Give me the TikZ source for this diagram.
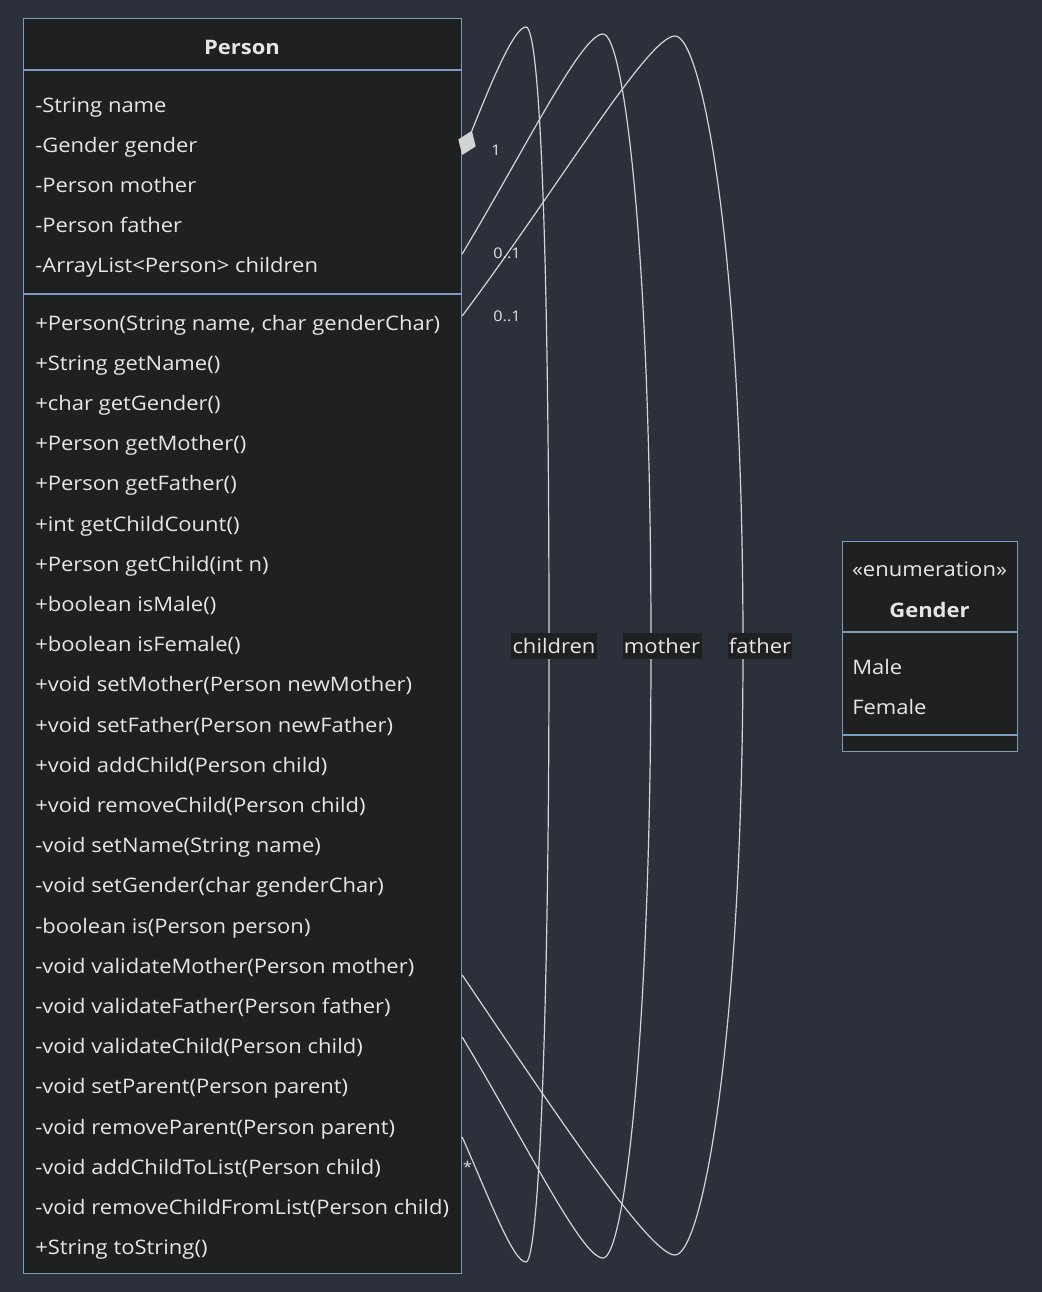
\documentclass[tikz,border=0pt]{standalone}
\usepackage{fontspec}
\setmainfont{Open Sans}[FakeStretch=1.1]
\usetikzlibrary{arrows.meta}
\definecolor{pagebg}{RGB}{43,48,59}
\definecolor{boxbg}{RGB}{31,32,32}
\definecolor{boxline}{RGB}{122,156,192}
\definecolor{ink}{RGB}{230,230,230}
\definecolor{wire}{RGB}{212,212,212}

\begin{document}
\begin{tikzpicture}[x=0.75pt, y=-0.75pt,
  classbox/.style={draw=boxline, fill=boxbg, line width=0.9pt, anchor=north west, inner sep=0pt},
  member/.style={anchor=base west, text=ink, font=\fontsize{15}{18}\selectfont, inner sep=0pt},
  title/.style={anchor=base, text=ink, font=\fontsize{15}{18}\selectfont\bfseries, inner sep=0pt},
  link/.style={draw=wire, line width=0.9pt},
  role/.style={fill=boxbg, text=ink, font=\fontsize{15}{18}\selectfont, inner xsep=1pt, inner ysep=0pt, minimum height=19.5pt},
  mult/.style={anchor=base, text=ink, font=\fontsize{11}{13}\selectfont, inner sep=0pt}]

\fill[pagebg] (0,0) rectangle (1042,1292);

% classes
\node[classbox, minimum width=328.5pt, minimum height=941.25pt] (person) at (23,18) {};
\node[classbox, minimum width=131.25pt, minimum height=157.5pt] (gender) at (842,541) {};
\draw[boxline, line width=0.9pt] (person.west |- 0,70) -- (person.east |- 0,70)
  (person.west |- 0,294) -- (person.east |- 0,294);
\draw[boxline, line width=0.9pt] (gender.west |- 0,632) -- (gender.east |- 0,632)
  (gender.west |- 0,735) -- (gender.east |- 0,735);

\node[title] (ptitle) at (242,54.3) {Person};
\foreach \m [count=\i from 0] in {-String name, -Gender gender, -Person mother,
    -Person father, -ArrayList<Person> children}
  \node[member] (attr\i) at (35,{112+40.2*\i}) {\m};
\foreach \m [count=\i from 0] in {{+Person(String name, char genderChar)},
    +String getName(), +char getGender(), +Person getMother(), +Person getFather(),
    +int getChildCount(), +Person getChild(int n), +boolean isMale(), +boolean isFemale(),
    +void setMother(Person newMother), +void setFather(Person newFather),
    +void addChild(Person child), +void removeChild(Person child),
    -void setName(String name), -void setGender(char genderChar),
    -boolean is(Person person), -void validateMother(Person mother),
    -void validateFather(Person father), -void validateChild(Person child),
    -void setParent(Person parent), -void removeParent(Person parent),
    -void addChildToList(Person child), -void removeChildFromList(Person child),
    +String toString()}
  \node[member] (op\i) at (35,{330+40.2*\i}) {\m};

\node[member, anchor=base] (stereo) at (929.5,576.7) {«enumeration»};
\node[title] (gtitle) at (929.5,617.3) {Gender};
\node[member] (male) at (852,674) {Male};
\node[member] (female) at (852,714) {Female};

% self associations
\coordinate (cs) at (person.east |- 0,155);
\coordinate (ce) at (person.east |- 0,1137);
\coordinate (ms) at (person.east |- 0,254);
\coordinate (me) at (person.east |- 0,1037);
\coordinate (fs) at (person.east |- 0,316);
\coordinate (fe) at (person.east |- 0,975);

\draw[link, {Diamond[length=19.5pt, width=14pt]}-] (cs) .. controls (491,83) and (514,27) .. (526,27)
  .. controls (540,27) and (549,250) .. (549,646) node[role, xshift=3.75pt] {children}
  .. controls (549,1040) and (538,1262) .. (526,1262)
  .. controls (513,1262) and (490,1200) .. (ce);
\draw[link] (ms) .. controls (530,140) and (582,34) .. (603,34)
  .. controls (624,34) and (651,250) .. (651,646) node[role, xshift=8.25pt] {mother}
  .. controls (651,1040) and (624,1258) .. (603,1258)
  .. controls (582,1258) and (530,1150) .. (me);
\draw[link] (fs) .. controls (560,185) and (648,36) .. (675,36)
  .. controls (702,36) and (743,250) .. (743,646) node[role, xshift=12.75pt] {father}
  .. controls (743,1040) and (702,1255) .. (675,1255)
  .. controls (650,1255) and (560,1120) .. (fe);

\node[mult] (m1) at (496,155) {1};
\node[mult] (m2) at (507,258.3) {0..1};
\node[mult] (m3) at (507,321.7) {0..1};
\node[mult] (m4) at (467.5,1172) {*};
\end{tikzpicture}
\end{document}
